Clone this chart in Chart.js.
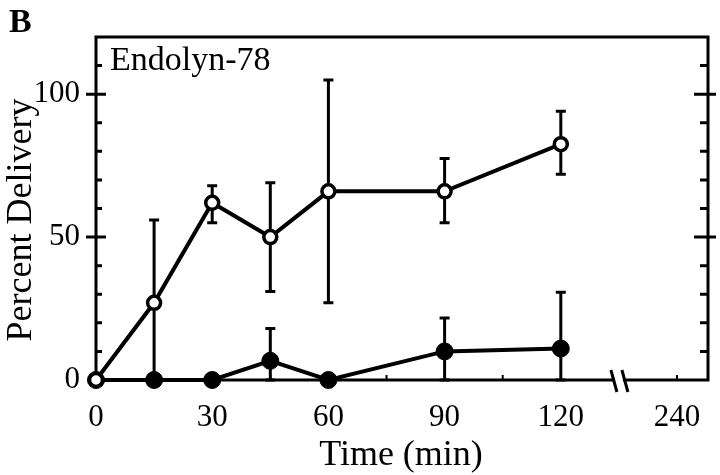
<!DOCTYPE html>
<html lang="en">
<head>
  <meta charset="UTF-8" />
  <title>Endolyn-78 delivery</title>
  <script src="https://cdn.jsdelivr.net/npm/chart.js"></script>
  <style>
    body { margin: 0; background: #fff; }
    .wrap { width: 720px; height: 475px; }
  </style>
</head>
<body>
  <div class="wrap"><canvas id="chart" width="720" height="475"></canvas></div>

  <script>
    // time points (min); 150 on the scale is the "240" spot after the break
    const times = [0, 15, 30, 45, 60, 90, 120];
    const openVals = [0, 27, 62, 50, 66, 66, 82.5];
    const openHi   = [null, 56, 68, 69, 105, 77.5, 94];
    const openLo   = [null, 0, 55, 31, 27, 55, 72];
    const filledVals = [0, 0, 0, 6.7, 0, 10, 11];
    const filledHi   = [null, null, null, 18, null, 21.7, 30.7];
    const filledLo   = [null, null, null, 0, null, 0, 0];

    const xTickVals = [0, 30, 60, 90, 120, 150];
    const xTickLabels = ['0', '30', '60', '90', '120', '240'];
    const xMinorTicks = [15, 45, 75, 105, 150];
    const xBreak = 135;
    const yTickVals = [0, 50, 100];
    const yMinorTicks = [10, 20, 30, 40, 60, 70, 80, 90, 110];

    const serif = "'Liberation Serif', 'Times New Roman', serif";

    const frame = {
      id: 'frame',
      beforeDatasetsDraw(chart) {
        const { ctx, chartArea: a, scales: { x, y } } = chart;
        ctx.save();
        ctx.strokeStyle = '#000';
        ctx.lineWidth = 3;
        ctx.strokeRect(a.left, a.top, a.right - a.left, a.bottom - a.top);

        // y ticks, both sides
        yMinorTicks.forEach(v => {
          const py = y.getPixelForValue(v);
          ctx.beginPath();
          ctx.moveTo(a.left, py); ctx.lineTo(a.left + 6, py);
          ctx.moveTo(a.right, py); ctx.lineTo(a.right - 8, py);
          ctx.stroke();
        });
        yTickVals.filter(v => v > 0).forEach(v => {
          const py = y.getPixelForValue(v);
          ctx.beginPath();
          ctx.moveTo(a.left - 10, py); ctx.lineTo(a.left + 10, py);
          ctx.moveTo(a.right - 14, py); ctx.lineTo(a.right + 8, py);
          ctx.stroke();
        });

        // x ticks, small and inside
        ctx.lineWidth = 2;
        xMinorTicks.forEach(v => {
          const px = x.getPixelForValue(v);
          ctx.beginPath();
          ctx.moveTo(px, a.bottom); ctx.lineTo(px, a.bottom - 5);
          ctx.stroke();
        });

        // axis break
        const bx = x.getPixelForValue(xBreak);
        ctx.fillStyle = '#fff';
        ctx.fillRect(bx - 4, a.bottom - 3, 8, 6);
        ctx.lineWidth = 3;
        [-5, 6].forEach(d => {
          ctx.beginPath();
          ctx.moveTo(bx + d - 3, a.bottom - 10);
          ctx.lineTo(bx + d + 3, a.bottom + 12);
          ctx.stroke();
        });

        // error bars
        const bars = (vals, hi, lo) => {
          times.forEach((t, i) => {
            const px = x.getPixelForValue(t);
            [hi[i], lo[i]].forEach(e => {
              if (e === null) return;
              const py = y.getPixelForValue(e);
              ctx.beginPath();
              ctx.moveTo(px, y.getPixelForValue(vals[i])); ctx.lineTo(px, py);
              ctx.moveTo(px - 5, py); ctx.lineTo(px + 5, py);
              ctx.stroke();
            });
          });
        };
        ctx.lineWidth = 3;
        bars(filledVals, filledHi, filledLo);
        bars(openVals, openHi, openLo);
        ctx.restore();
      },
      afterDraw(chart) {
        const { ctx } = chart;
        ctx.save();
        ctx.fillStyle = '#000';
        ctx.textAlign = 'left';
        ctx.textBaseline = 'alphabetic';
        ctx.font = 'bold 34px ' + serif;
        ctx.fillText('B', 9, 32);
        ctx.font = '34px ' + serif;
        ctx.fillText('Endolyn-78', 110, 70);
        ctx.font = '36px ' + serif;
        ctx.textAlign = 'center';
        ctx.fillText('Time (min)', 401, 465);
        ctx.translate(31, 220);
        ctx.rotate(-Math.PI / 2);
        ctx.fillText('Percent Delivery', 0, 0);
        ctx.restore();
      }
    };

    new Chart(document.getElementById('chart'), {
      type: 'line',
      data: {
        labels: times,
        datasets: [
          {
            label: 'filled',
            data: times.map((t, i) => ({ x: t, y: filledVals[i] })),
            borderColor: '#000',
            borderWidth: 4,
            backgroundColor: '#000',
            pointBackgroundColor: '#000',
            pointBorderColor: '#000',
            pointRadius: 8.5,
            pointBorderWidth: 1,
            clip: false,
            order: 2
          },
          {
            label: 'open',
            data: times.map((t, i) => ({ x: t, y: openVals[i] })),
            borderColor: '#000',
            borderWidth: 4,
            pointBackgroundColor: '#fff',
            pointBorderColor: '#000',
            pointRadius: 6.5,
            pointBorderWidth: 3.5,
            clip: false,
            order: 1
          }
        ]
      },
      options: {
        responsive: false,
        animation: false,
        events: [],
        layout: { padding: { top: 37, right: 12, left: 0, bottom: 0 } },
        plugins: { legend: { display: false }, tooltip: { enabled: false } },
        scales: {
          x: {
            type: 'linear',
            min: 0,
            max: 158,
            grid: { display: false },
            border: { display: false },
            afterBuildTicks: s => { s.ticks = xTickVals.map(v => ({ value: v })); },
            afterFit: s => { s.height = 95; },
            ticks: {
              color: '#000',
              font: { family: serif, size: 31 },
              padding: 11,
              maxRotation: 0,
              callback: v => xTickLabels[xTickVals.indexOf(v)]
            }
          },
          y: {
            min: 0,
            max: 120,
            grid: { display: false },
            border: { display: false },
            afterBuildTicks: s => { s.ticks = yTickVals.map(v => ({ value: v })); },
            afterFit: s => { s.width = 96; },
            ticks: {
              color: '#000',
              font: { family: serif, size: 31 },
              padding: 8
            }
          }
        }
      },
      plugins: [frame]
    });
  </script>
</body>
</html>
